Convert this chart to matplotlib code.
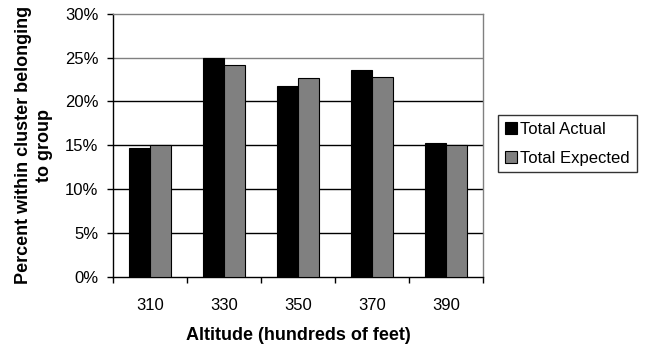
import matplotlib
matplotlib.use("Agg")
import matplotlib.pyplot as plt
import numpy as np
from matplotlib.ticker import FixedLocator, NullFormatter

plt.rcParams['font.family'] = ['Liberation Sans', 'DejaVu Sans']

altitudes = ["310", "330", "350", "370", "390"]
total_actual = [14.7, 24.9, 21.8, 23.6, 15.3]
total_expected = [15.0, 24.2, 22.7, 22.8, 15.0]
y_ticks = [0, 5, 10, 15, 20, 25, 30]

FS = 12
LABEL_FS = 13

fig = plt.figure(figsize=(6.53, 3.44), dpi=100)
ax = fig.add_axes([0.173, 0.195, 0.567, 0.765])

x = np.arange(len(altitudes))
w = 1 / 3.5
ax.bar(x - w / 2, total_actual, width=w, color="black", edgecolor="black",
       linewidth=0.8, label="Total Actual", zorder=3)
ax.bar(x + w / 2, total_expected, width=w, color="#808080", edgecolor="black",
       linewidth=0.8, label="Total Expected", zorder=3)

ax.set_xlim(-0.5, len(altitudes) - 0.5)
ax.set_ylim(0, 30)
ax.set_yticks(y_ticks)
ax.set_yticklabels([f"{t}%" for t in y_ticks], fontsize=FS)
for t in y_ticks[1:-1]:
    ax.axhline(t, color="#808080" if t == 25 else "black", linewidth=1, zorder=1)

ax.set_xticks(x)
ax.set_xticklabels(altitudes, fontsize=FS)
ax.tick_params(axis="x", which="major", length=0, pad=15)
ax.xaxis.set_minor_locator(FixedLocator(np.arange(-0.5, len(altitudes), 1.0)))
ax.xaxis.set_minor_formatter(NullFormatter())
ax.tick_params(axis="x", which="minor", length=4.5, width=1, direction="out")
ax.tick_params(axis="y", length=4.5, width=1, direction="out", pad=6)

for side in ("left", "bottom"):
    ax.spines[side].set_color("black")
    ax.spines[side].set_linewidth(1)
for side in ("top", "right"):
    ax.spines[side].set_color("#808080")
    ax.spines[side].set_linewidth(1)

ax.set_xlabel("Altitude (hundreds of feet)", fontsize=LABEL_FS, fontweight="bold",
              labelpad=10)
ax.set_ylabel("Percent within cluster belonging\nto group", fontsize=LABEL_FS,
              fontweight="bold", linespacing=1.28)
ax.yaxis.set_label_coords(-0.162, 0.5)

leg = fig.legend(loc="upper left", bbox_to_anchor=(498 / 653, 1 - 115 / 344),
                 frameon=True, fancybox=False, edgecolor="black", fontsize=FS,
                 handlelength=0.72, handleheight=0.72, handletextpad=0.22,
                 borderpad=0.4, labelspacing=0.85, borderaxespad=0)
leg.get_frame().set_linewidth(1)

fig.savefig("out.png", dpi=100)
